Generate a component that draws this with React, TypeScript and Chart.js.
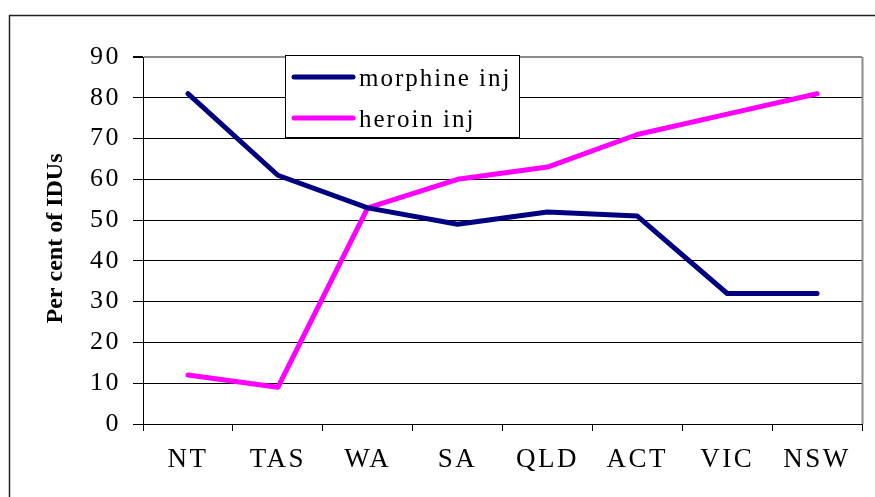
import React, { useEffect, useRef } from "react";
import { Chart, registerables } from "chart.js";

Chart.register(...registerables);

const categories = ["NT", "TAS", "WA", "SA", "QLD", "ACT", "VIC", "NSW"];
const morphineInj = [81, 61, 53, 49, 52, 51, 32, 32];
const heroinInj = [12, 9, 53, 60, 63, 71, 76, 81];
const seriesNames = ["morphine inj", "heroin inj"];
const seriesColors = ["#000080", "#FF00FF"];
const yTitle = "Per cent of IDUs";

const FONT = "'Liberation Serif', 'Times New Roman', serif";

const decorPlugin = {
  id: "decor",
  beforeDraw(chart: any) {
    const { ctx, width, height } = chart;
    ctx.save();
    ctx.fillStyle = "#ffffff";
    ctx.fillRect(0, 0, width, height);
    ctx.restore();
    (ctx as any).letterSpacing = "2.5px";
  },
  beforeDatasetsDraw(chart: any) {
    const { ctx, chartArea } = chart;
    ctx.save();
    ctx.strokeStyle = "#8c8c8c";
    ctx.lineWidth = 2;
    ctx.beginPath();
    ctx.moveTo(Math.round(chartArea.right) + 0.5, chartArea.top);
    ctx.lineTo(Math.round(chartArea.right) + 0.5, chartArea.bottom);
    ctx.stroke();
    ctx.restore();
  },
  afterDraw(chart: any) {
    const { ctx, chartArea, width, height } = chart;
    ctx.save();
    // outer frame
    ctx.strokeStyle = "#222";
    ctx.lineWidth = 1.5;
    ctx.beginPath();
    ctx.moveTo(width, 15.5);
    ctx.lineTo(9.5, 15.5);
    ctx.lineTo(9.5, height);
    ctx.stroke();

    // y title
    (ctx as any).letterSpacing = "0px";
    ctx.fillStyle = "#000";
    ctx.font = `bold 24px ${FONT}`;
    ctx.textAlign = "center";
    ctx.textBaseline = "middle";
    ctx.translate(56, (chartArea.top + chartArea.bottom) / 2 - 2);
    ctx.rotate(-Math.PI / 2);
    ctx.fillText(yTitle, 0, 0);
    ctx.restore();

    // legend
    ctx.save();
    const lx = chartArea.left + 142;
    const ly = chartArea.top - 2;
    const lw = 234;
    const lh = 82;
    ctx.fillStyle = "#fff";
    ctx.fillRect(lx, ly, lw, lh);
    ctx.strokeStyle = "#000";
    ctx.lineWidth = 1;
    ctx.strokeRect(lx + 0.5, ly + 0.5, lw, lh);
    (ctx as any).letterSpacing = "2px";
    ctx.font = `25px ${FONT}`;
    ctx.textAlign = "left";
    ctx.textBaseline = "alphabetic";
    seriesNames.forEach((name, i) => {
      const y = ly + 22 + i * 41;
      ctx.strokeStyle = seriesColors[i];
      ctx.lineWidth = 5;
      ctx.lineCap = "round";
      ctx.beginPath();
      ctx.moveTo(lx + 9, y);
      ctx.lineTo(lx + 68, y);
      ctx.stroke();
      ctx.fillStyle = "#000";
      ctx.fillText(name, lx + 74, y + 9);
    });
    ctx.restore();
  },
};

export default function App() {
  const ref = useRef<HTMLCanvasElement | null>(null);
  useEffect(() => {
    if (!ref.current) return;
    const chart = new Chart(ref.current, {
      type: "line",
      data: {
        labels: categories,
        datasets: [
          {
            label: seriesNames[0],
            data: morphineInj,
            borderColor: seriesColors[0],
            backgroundColor: seriesColors[0],
            borderWidth: 5,
            pointRadius: 0,
            tension: 0,
            borderCapStyle: "round",
            borderJoinStyle: "round",
          },
          {
            label: seriesNames[1],
            data: heroinInj,
            borderColor: seriesColors[1],
            backgroundColor: seriesColors[1],
            borderWidth: 5,
            pointRadius: 0,
            tension: 0,
            borderCapStyle: "round",
            borderJoinStyle: "round",
          },
        ],
      },
      options: {
        responsive: false,
        animation: false,
        devicePixelRatio: 1,
        layout: { padding: { top: 57, right: 13, left: 0, bottom: 0 } },
        plugins: {
          legend: { display: false },
          tooltip: { enabled: false },
          title: { display: false },
        },
        scales: {
          x: {
            type: "category",
            offset: true,
            afterFit: (s: any) => {
              s.height = 73;
            },
            grid: {
              offset: true,
              drawOnChartArea: false,
              drawTicks: true,
              tickLength: 7,
              tickColor: "#000",
              color: "#000",
            },
            border: { display: true, color: "#000", width: 1 },
            ticks: {
              color: "#000",
              font: { family: FONT, size: 27 },
              padding: 13,
              maxRotation: 0,
              autoSkip: false,
            },
          },
          y: {
            min: 0,
            max: 90,
            afterFit: (s: any) => {
              s.width = 143;
            },
            grid: {
              color: (c: any) => (c.tick && c.tick.value === 90 ? "#8c8c8c" : "#000"),
              lineWidth: (c: any) => (c.tick && c.tick.value === 90 ? 2 : 1),
              tickColor: "#000",
              tickLength: 10,
              drawTicks: true,
            },
            border: { display: true, color: "#000", width: 1 },
            ticks: {
              stepSize: 10,
              color: "#000",
              font: { family: FONT, size: 26 },
              padding: 12,
            },
          },
        },
      },
      plugins: [decorPlugin],
    } as any);
    return () => chart.destroy();
  }, []);
  return (
    <div style={{ position: "fixed", left: 0, top: 0, width: 875, height: 497, background: "#fff" }}>
      <canvas ref={ref} width={875} height={497} />
    </div>
  );
}
